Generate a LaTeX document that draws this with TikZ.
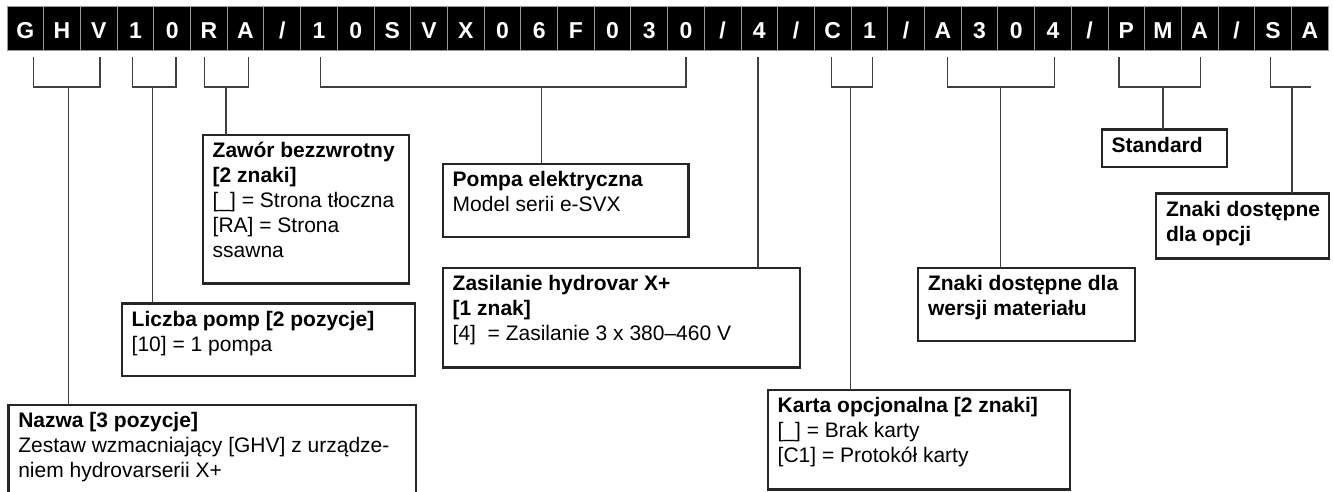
\documentclass[tikz,border=0pt]{standalone}
\usepackage{fontspec}
\setmainfont{Liberation Sans}
\newcommand{\boxbody}[3]{\parbox[t][#2pt][t]{#1pt}{\raggedright #3}}

\begin{document}
\begin{tikzpicture}[x=1pt,y=-1pt,
    cell/.style={fill=black,draw=black!40,line width=1pt,minimum width=36.7pt,minimum height=44pt,inner sep=0pt,
        text=white,text height=20.6pt,text depth=0pt,font=\fontsize{23}{23}\selectfont\bfseries},
    infobox/.style={draw=black!85,line width=2.4pt,anchor=north west,inner xsep=10pt,inner ysep=7.5pt,outer sep=0pt,
        font=\fontsize{21}{25}\selectfont},
    link/.style={black!75,line width=1.2pt}]
    \clip (0,0) rectangle (1333,491);
    % type code
    \foreach \ch [count=\i] in {G,H,V,1,0,R,A,/,1,0,S,V,X,0,6,F,0,3,0,/,4,/,C,1,/,A,3,0,4,/,P,M,A,/,S,A}
        \node[cell] (c\i) at ({7+(\i-0.5)*36.7},28) {\ch};
    % descriptions
    \node[infobox] (nazwa) at (8.3,405) {\boxbody{387.7}{100}{\textbf{Nazwa [3 pozycje]}\\\mbox{Zestaw wzmacniający [GHV] z urządze-}\\niem hydrovarserii X+}};
    \node[infobox] (liczba) at (121.7,303.3) {\boxbody{273.3}{57.4}{\textbf{\mbox{Liczba pomp [2 pozycje]}}\\{}[10] = 1 pompa}};
    \node[infobox] (zawor) at (202.7,135) {\boxbody{186.3}{133.3}{\textbf{Zawór bezzwrotny}\\\textbf{[2 znaki]}\\\mbox{[\_] = Strona tłoczna}\\{}[RA] = Strona\\ssawna}};
    \node[infobox] (pompa) at (442.7,164) {\boxbody{225.6}{57.7}{\textbf{Pompa elektryczna}\\Model serii e-SVX}};
    \node[infobox] (zasilanie) at (442.7,268) {\boxbody{337.3}{84.3}{\textbf{Zasilanie hydrovar X+}\\\textbf{[1 znak]}\\{}[4]\ \ = Zasilanie 3 x 380–460 V}};
    \node[infobox] (karta) at (767.7,390) {\boxbody{282.3}{84.3}{\textbf{\mbox{Karta opcjonalna [2 znaki]}}\\{}[\_] = Brak karty\\{}[C1] = Protokół karty}};
    \node[infobox] (material) at (918,267.7) {\boxbody{197}{58}{\textbf{\mbox{Znaki dostępne dla}}\\\textbf{wersji materiału}}};
    \node[infobox] (standard) at (1101.7,129.3) {\boxbody{105}{22.4}{\textbf{Standard}}};
    \node[infobox] (opcje) at (1156,193.3) {\boxbody{153}{50}{\textbf{\mbox{Znaki dostępne}}\\\textbf{dla opcji}}};
    % brackets
    \foreach \l/\r/\m/\t in {33.3/100/68.3/nazwa,132.3/176/152.7/liczba,204.3/248.3/226/zawor,320.7/686/541.7/pompa,
            831.7/872.7/850.7/karta,947.7/1054.3/1000.7/material,1119/1200.3/1163/standard}{
        \draw[link] (\l,57) |- (\r,87) -- (\r,57);
        \coordinate (s) at (\m,87);
        \draw[link] (s) -- (s |- \t.north);
    }
    \draw[link] (1270.7,57) |- (1311,87);
    \coordinate (s) at (1292,87);
    \draw[link] (s) -- (s |- opcje.north);
    \coordinate (s) at (758,57);
    \draw[link] (s) -- (s |- zasilanie.north);
\end{tikzpicture}
\end{document}
